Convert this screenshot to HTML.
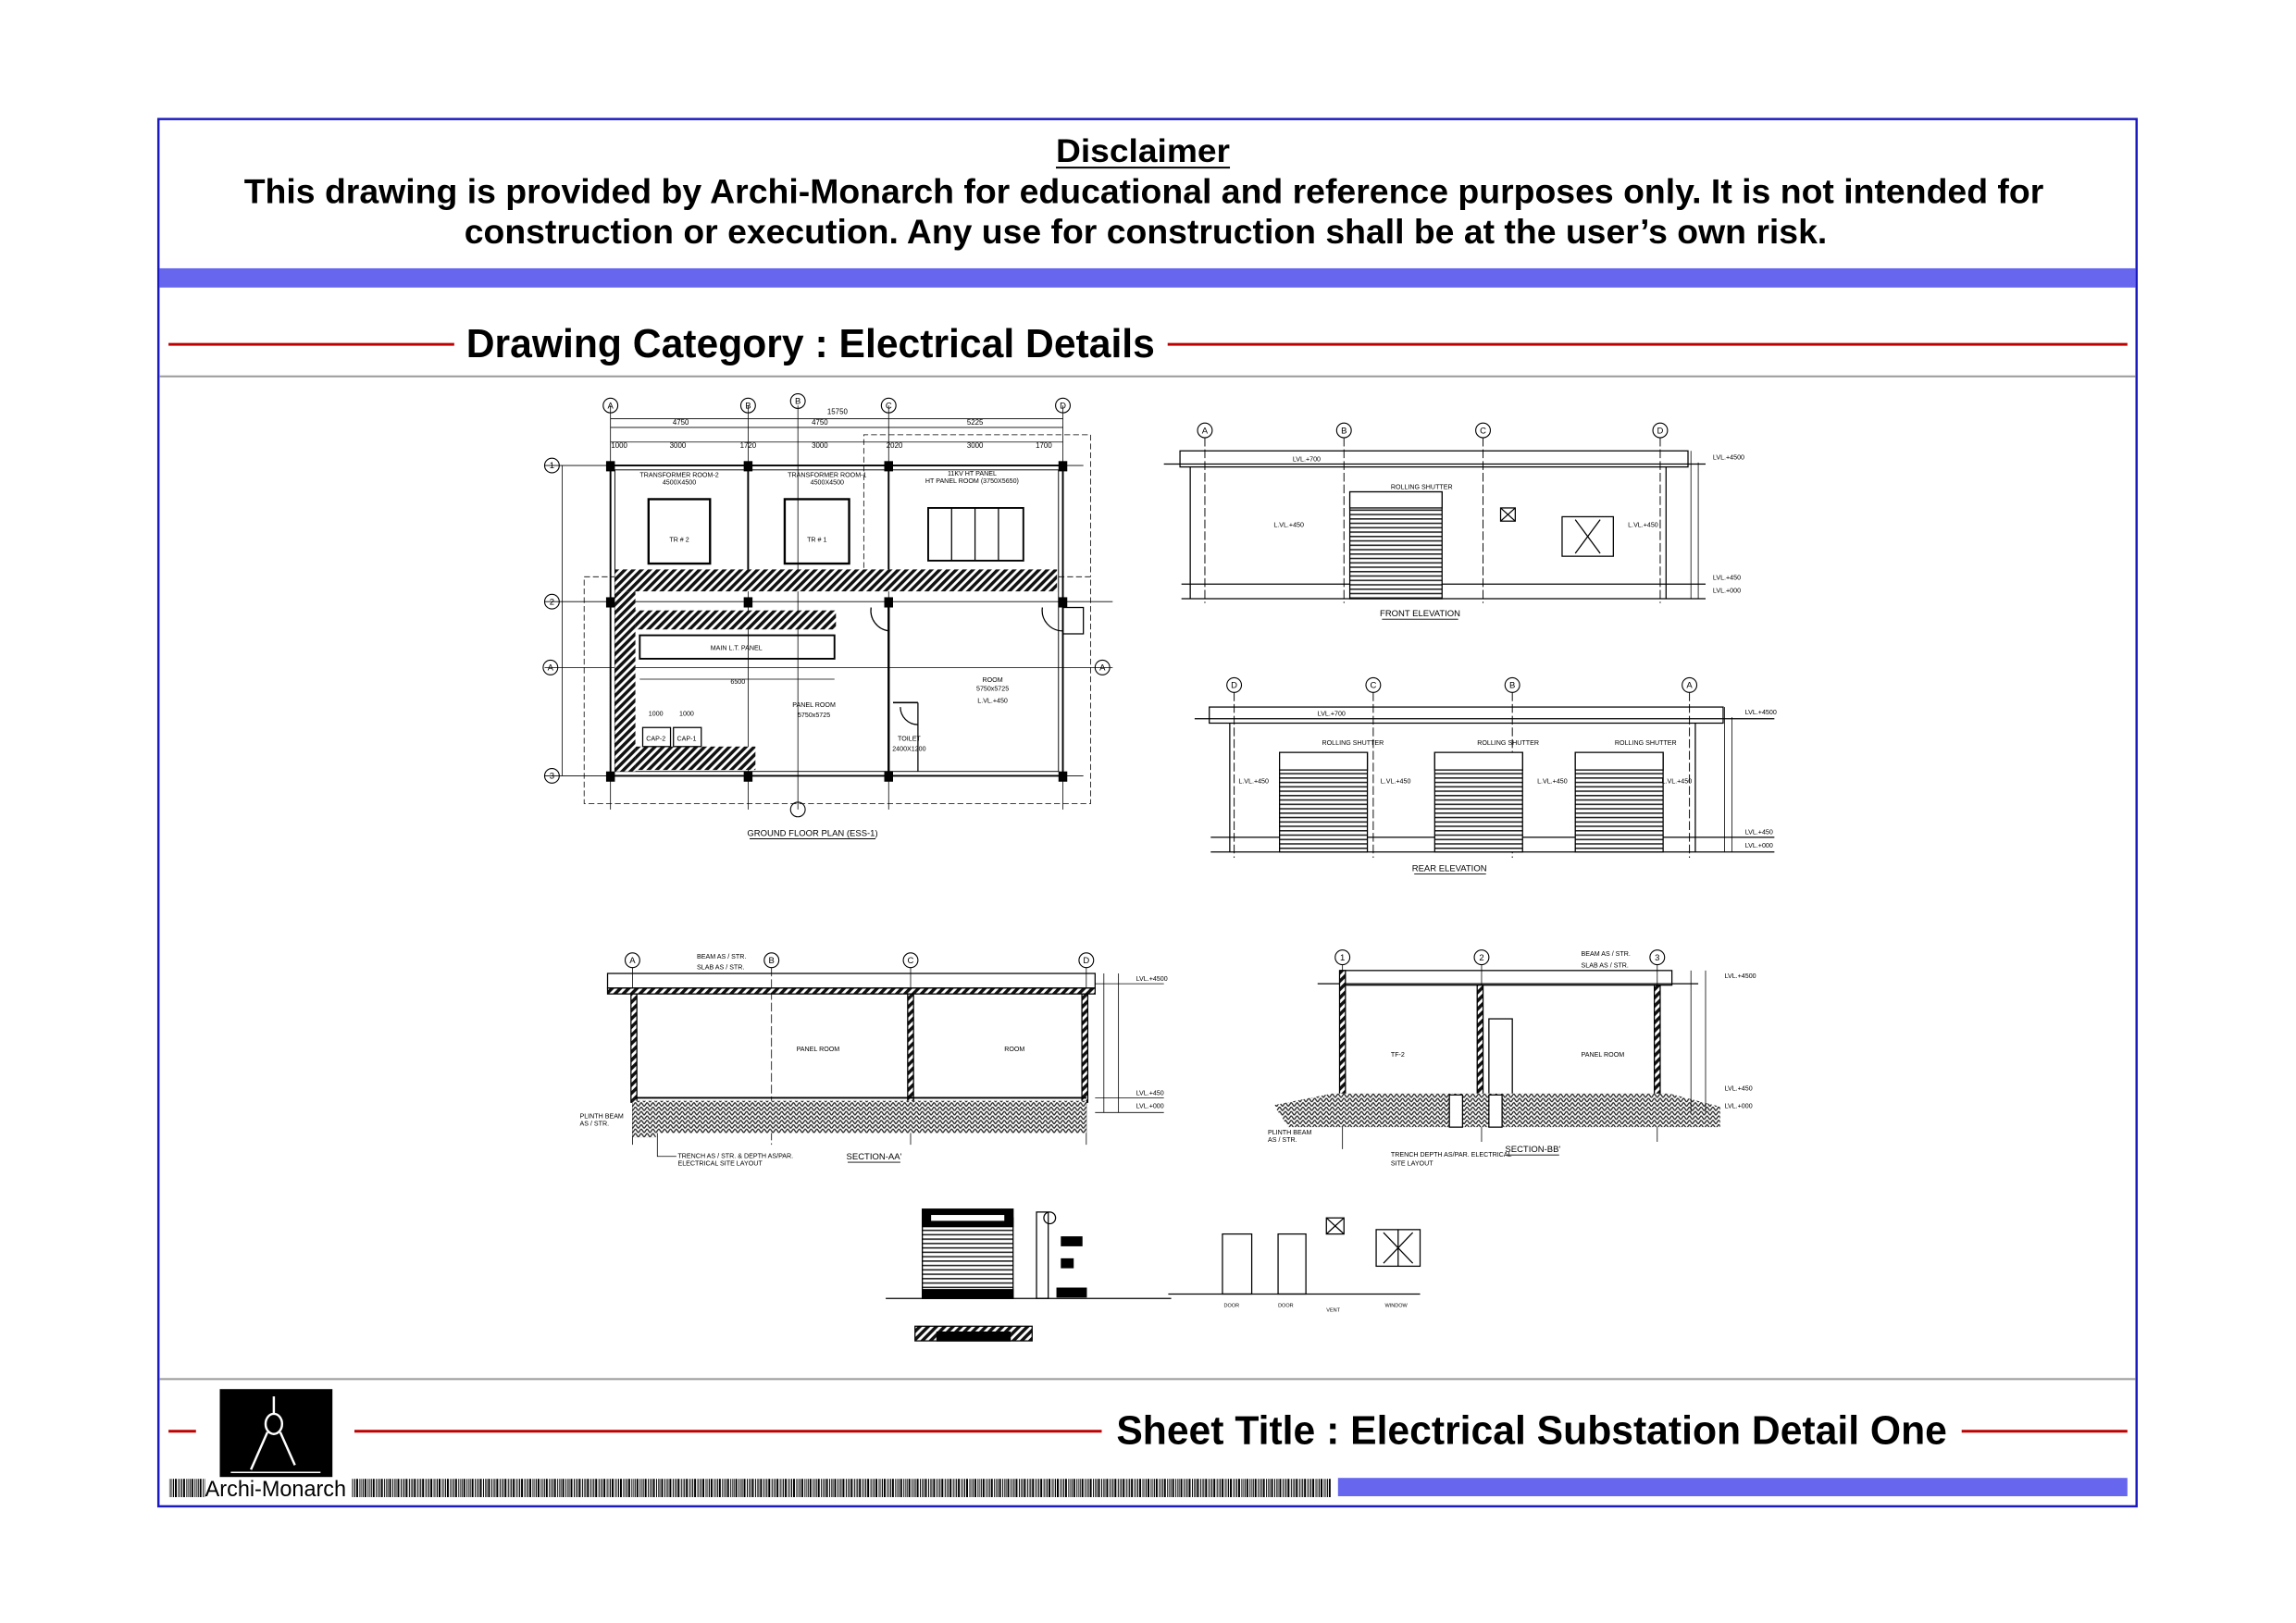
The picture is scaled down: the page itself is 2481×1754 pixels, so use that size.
<!DOCTYPE html>
<html><head><meta charset="utf-8"><style>
html,body{margin:0;padding:0;background:#fff;}
svg{display:block;}
text{font-family:"Liberation Sans",Arial,sans-serif;}
</style></head><body>
<svg width="2481" height="1754" viewBox="0 0 2481 1754" xmlns="http://www.w3.org/2000/svg">
<defs>
<pattern id="h" width="4" height="4" patternUnits="userSpaceOnUse" patternTransform="rotate(45)">
<rect width="4" height="4" fill="#fff"/><rect width="2.2" height="4" fill="#111"/></pattern>
<pattern id="g" width="4" height="3" patternUnits="userSpaceOnUse">
<rect width="4" height="3" fill="#fff"/><path d="M0 3L2 0L4 3" stroke="#222" stroke-width="0.8" fill="none"/></pattern>
<pattern id="sh" width="6" height="3" patternUnits="userSpaceOnUse">
<rect width="6" height="3" fill="#fff"/><rect y="0" width="6" height="1" fill="#222"/></pattern>
<pattern id="bc" width="9" height="10" patternUnits="userSpaceOnUse">
<rect width="9" height="10" fill="#fff"/><rect x="0" width="1" height="10" fill="#000"/><rect x="2" width="2" height="10" fill="#000"/><rect x="5.5" width="1" height="10" fill="#000"/><rect x="7.5" width="0.7" height="10" fill="#000"/></pattern>
</defs>
<g transform="scale(0.9896)">
<!-- Sheet frame -->
<rect x="173" y="130" width="2160" height="1515" fill="none" stroke="#1a1ac0" stroke-width="2.5"/>
<text x="1248" y="177" font-size="36" font-weight="bold" text-anchor="middle" textLength="190" lengthAdjust="spacingAndGlyphs">Disclaimer</text>
<line x1="1153" y1="183" x2="1343" y2="183" stroke="#000" stroke-width="2"/>
<text x="1249" y="222" font-size="37" font-weight="bold" text-anchor="middle" textLength="1965" lengthAdjust="spacingAndGlyphs">This drawing is provided by Archi-Monarch for educational and reference purposes only. It is not intended for</text>
<text x="1251" y="266" font-size="37" font-weight="bold" text-anchor="middle" textLength="1488" lengthAdjust="spacingAndGlyphs">construction or execution. Any use for construction shall be at the user’s own risk.</text>
<rect x="174" y="293" width="2158" height="21" fill="#6666ee"/>
<line x1="184" y1="376" x2="496" y2="376" stroke="#c00000" stroke-width="3"/>
<text x="509" y="390" font-size="44" font-weight="bold" textLength="752" lengthAdjust="spacingAndGlyphs">Drawing Category : Electrical Details</text>
<line x1="1275" y1="376" x2="2323" y2="376" stroke="#c00000" stroke-width="3"/>
<line x1="174" y1="411" x2="2332" y2="411" stroke="#999" stroke-width="2"/>

<line x1="174" y1="1506" x2="2332" y2="1506" stroke="#999" stroke-width="2"/>
<line x1="184" y1="1563" x2="214" y2="1563" stroke="#c00000" stroke-width="3"/>
<rect x="240" y="1517" width="123" height="96" fill="#000"/>
<g stroke="#fff" stroke-width="2.5" fill="none">
<line x1="299" y1="1525" x2="299" y2="1545"/><ellipse cx="299" cy="1555" rx="9" ry="11"/>
<line x1="292" y1="1564" x2="274" y2="1605"/><line x1="306" y1="1564" x2="322" y2="1600"/>
<line x1="252" y1="1608" x2="350" y2="1608" stroke-width="1.5"/></g>
<line x1="387" y1="1563" x2="1203" y2="1563" stroke="#c00000" stroke-width="3"/>
<text x="1219" y="1577" font-size="44" font-weight="bold" textLength="907" lengthAdjust="spacingAndGlyphs">Sheet Title : Electrical Substation Detail One</text>
<line x1="2142" y1="1563" x2="2323" y2="1563" stroke="#c00000" stroke-width="3"/>
<rect x="184" y="1615" width="40" height="20" fill="url(#bc)"/>
<text x="224" y="1634" font-size="24" textLength="154" lengthAdjust="spacingAndGlyphs">Archi-Monarch</text>
<rect x="384" y="1615" width="1069" height="20" fill="url(#bc)"/>
<rect x="1461" y="1614" width="862" height="20" fill="#6666ee"/>

<!-- Drawings -->
<g transform="scale(1.5986)" stroke="#000" fill="none" stroke-width="0.8">
<!-- GROUND FLOOR PLAN -->
<g stroke-width="0.5" stroke-dasharray="4 2"><rect x="399" y="394" width="346" height="155"/><polyline points="590,394 590,297 745,297 745,394"/></g>
<g stroke-width="0.5">
<line x1="417" y1="277" x2="417" y2="553"/><line x1="511" y1="277" x2="511" y2="553"/><line x1="607" y1="277" x2="607" y2="553"/><line x1="726" y1="277" x2="726" y2="553"/>
<line x1="545" y1="277" x2="545" y2="553"/>
<line x1="372" y1="318" x2="740" y2="318"/><line x1="372" y1="411" x2="760" y2="411"/><line x1="372" y1="530" x2="740" y2="530"/><line x1="372" y1="456" x2="760" y2="456"/>
<line x1="417" y1="286" x2="726" y2="286"/><line x1="417" y1="292" x2="726" y2="292"/><line x1="417" y1="302" x2="726" y2="302"/>
<line x1="384" y1="318" x2="384" y2="530"/>
</g>
<g font-size="5" fill="#000" stroke="none" text-anchor="middle">
<text x="572" y="283">15750</text><text x="465" y="290">4750</text><text x="560" y="290">4750</text><text x="666" y="290">5225</text>
<text x="423" y="306">1000</text><text x="463" y="306">3000</text><text x="511" y="306">1720</text><text x="560" y="306">3000</text><text x="611" y="306">2020</text><text x="666" y="306">3000</text><text x="713" y="306">1700</text>
</g>
<g stroke-width="0.7">
<circle cx="417" cy="277" r="5"/><circle cx="511" cy="277" r="5"/><circle cx="545" cy="274" r="5"/><circle cx="607" cy="277" r="5"/><circle cx="726" cy="277" r="5"/>
<circle cx="377" cy="318" r="5"/><circle cx="377" cy="411" r="5"/><circle cx="377" cy="530" r="5"/><circle cx="376" cy="456" r="5"/><circle cx="753" cy="456" r="5"/><circle cx="545" cy="553" r="5"/>
</g>
<g font-size="6" fill="#000" stroke="none" text-anchor="middle">
<text x="417" y="279">A</text><text x="511" y="279">B</text><text x="545" y="276">B</text><text x="607" y="279">C</text><text x="726" y="279">D</text>
<text x="377" y="320">1</text><text x="377" y="413">2</text><text x="377" y="532">3</text><text x="376" y="458">A</text><text x="753" y="458">A</text>
</g>
<rect x="417" y="318" width="309" height="212" stroke-width="1.2"/>
<rect x="420" y="321" width="303" height="206" stroke-width="0.6"/>
<g fill="#000" stroke="none">
<rect x="414" y="315" width="6" height="7"/><rect x="508" y="315" width="6" height="7"/><rect x="604" y="315" width="6" height="7"/><rect x="723" y="315" width="6" height="7"/>
<rect x="414" y="408" width="6" height="7"/><rect x="508" y="408" width="6" height="7"/><rect x="604" y="408" width="6" height="7"/><rect x="723" y="408" width="6" height="7"/>
<rect x="414" y="527" width="6" height="7"/><rect x="508" y="527" width="6" height="7"/><rect x="604" y="527" width="6" height="7"/><rect x="723" y="527" width="6" height="7"/>
</g>
<line x1="511" y1="318" x2="511" y2="389" stroke-width="1.2"/><line x1="607" y1="318" x2="607" y2="389" stroke-width="1.2"/>
<line x1="607" y1="415" x2="607" y2="530" stroke-width="1.5"/>
<polyline points="610,480 627,480" stroke-width="1"/><line x1="627" y1="480" x2="627" y2="527"/>
<rect x="443" y="341" width="42" height="44" stroke-width="1.5"/>
<rect x="536" y="341" width="44" height="44" stroke-width="1.5"/>
<rect x="634" y="347" width="65" height="36" stroke-width="1.2"/>
<line x1="650" y1="347" x2="650" y2="383"/><line x1="666" y1="347" x2="666" y2="383"/><line x1="682" y1="347" x2="682" y2="383"/>
<rect x="420" y="389" width="302" height="15" fill="url(#h)" stroke="none"/>
<rect x="420" y="404" width="14" height="123" fill="url(#h)" stroke="none"/>
<rect x="434" y="417" width="137" height="13" fill="url(#h)" stroke="none"/>
<rect x="434" y="510" width="82" height="16" fill="url(#h)" stroke="none"/>
<rect x="437" y="434" width="133" height="16" stroke-width="1.2"/>
<line x1="437" y1="464" x2="570" y2="464" stroke-width="0.5"/>
<rect x="439" y="497" width="19" height="13"/><rect x="460" y="497" width="19" height="13"/>
<path d="M595 415 A14 14 0 0 0 607 431"/><path d="M712 415 A14 14 0 0 0 726 431"/><rect x="726" y="415" width="14" height="18"/>
<path d="M615 483 A12 12 0 0 0 627 495"/>
<g font-size="4.5" fill="#000" stroke="none" text-anchor="middle">
<text x="464" y="326">TRANSFORMER ROOM-2</text><text x="464" y="331">4500X4500</text>
<text x="565" y="326">TRANSFORMER ROOM-1</text><text x="565" y="331">4500X4500</text>
<text x="664" y="325">11KV HT PANEL</text><text x="664" y="330">HT PANEL ROOM (3750X5650)</text>
<text x="464" y="370">TR # 2</text><text x="558" y="370">TR # 1</text>
<text x="503" y="444">MAIN L.T. PANEL</text><text x="504" y="467">6500</text>
<text x="556" y="483">PANEL ROOM</text><text x="556" y="490">5750x5725</text>
<text x="678" y="466">ROOM</text><text x="678" y="472">5750x5725</text><text x="678" y="480">L.VL.+450</text>
<text x="621" y="506">TOILET</text><text x="621" y="513">2400X1200</text>
<text x="448" y="506">CAP-2</text><text x="469" y="506">CAP-1</text>
<text x="448" y="489">1000</text><text x="469" y="489">1000</text>
</g>
<text x="555" y="571" font-size="6" fill="#000" stroke="none" text-anchor="middle">GROUND FLOOR PLAN (ESS-1)</text>
<line x1="512" y1="573" x2="598" y2="573" stroke-width="0.6"/>

<!-- FRONT ELEVATION -->
<g stroke-dasharray="6 2" stroke-width="0.6"><line x1="823" y1="299" x2="823" y2="412"/><line x1="918" y1="299" x2="918" y2="412"/><line x1="1013" y1="299" x2="1013" y2="412"/><line x1="1134" y1="299" x2="1134" y2="412"/></g>
<g stroke-width="0.7"><circle cx="823" cy="294" r="5"/><circle cx="918" cy="294" r="5"/><circle cx="1013" cy="294" r="5"/><circle cx="1134" cy="294" r="5"/></g>
<g font-size="6" fill="#000" stroke="none" text-anchor="middle"><text x="823" y="296">A</text><text x="918" y="296">B</text><text x="1013" y="296">C</text><text x="1134" y="296">D</text></g>
<rect x="806" y="308" width="347" height="11"/>
<line x1="795" y1="317" x2="1165" y2="317"/>
<line x1="813" y1="319" x2="813" y2="409"/><line x1="1138" y1="319" x2="1138" y2="409"/>
<line x1="807" y1="399" x2="1165" y2="399"/><line x1="807" y1="409" x2="1165" y2="409"/>
<rect x="922" y="336" width="63" height="73" fill="url(#sh)"/><rect x="922" y="336" width="63" height="11" fill="#fff"/>
<rect x="1025" y="347" width="10" height="9"/><path d="M1025 347L1035 356M1035 347L1025 356"/>
<rect x="1067" y="353" width="35" height="27"/><path d="M1076 355L1093 378M1093 355L1076 378"/>
<line x1="1155" y1="308" x2="1155" y2="409" stroke-width="0.5"/><line x1="1160" y1="316" x2="1160" y2="409" stroke-width="0.5"/>
<g font-size="4.5" fill="#000" stroke="none"><text x="883" y="315">LVL.+700</text><text x="870" y="360">L.VL.+450</text><text x="1112" y="360">L.VL.+450</text><text x="950" y="334">ROLLING SHUTTER</text><text x="1170" y="314">LVL.+4500</text><text x="1170" y="396">LVL.+450</text><text x="1170" y="405">LVL.+000</text></g>
<text x="970" y="421" font-size="6" fill="#000" stroke="none" text-anchor="middle">FRONT ELEVATION</text>
<line x1="944" y1="423" x2="996" y2="423" stroke-width="0.6"/>

<!-- REAR ELEVATION -->
<g stroke-dasharray="6 2" stroke-width="0.6"><line x1="843" y1="473" x2="843" y2="586"/><line x1="938" y1="473" x2="938" y2="586"/><line x1="1033" y1="473" x2="1033" y2="586"/><line x1="1154" y1="473" x2="1154" y2="586"/></g>
<g stroke-width="0.7"><circle cx="843" cy="468" r="5"/><circle cx="938" cy="468" r="5"/><circle cx="1033" cy="468" r="5"/><circle cx="1154" cy="468" r="5"/></g>
<g font-size="6" fill="#000" stroke="none" text-anchor="middle"><text x="843" y="470">D</text><text x="938" y="470">C</text><text x="1033" y="470">B</text><text x="1154" y="470">A</text></g>
<rect x="826" y="483" width="351" height="11"/>
<line x1="816" y1="491" x2="1212" y2="491"/>
<line x1="840" y1="494" x2="840" y2="582"/><line x1="1158" y1="494" x2="1158" y2="582"/>
<line x1="827" y1="572" x2="1212" y2="572"/><line x1="827" y1="582" x2="1212" y2="582"/>
<rect x="874" y="514" width="60" height="68" fill="url(#sh)"/><rect x="874" y="514" width="60" height="12" fill="#fff"/>
<rect x="980" y="514" width="60" height="68" fill="url(#sh)"/><rect x="980" y="514" width="60" height="12" fill="#fff"/>
<rect x="1076" y="514" width="60" height="68" fill="url(#sh)"/><rect x="1076" y="514" width="60" height="12" fill="#fff"/>
<line x1="1178" y1="483" x2="1178" y2="582" stroke-width="0.5"/><line x1="1183" y1="490" x2="1183" y2="582" stroke-width="0.5"/>
<g font-size="4.5" fill="#000" stroke="none"><text x="900" y="489">LVL.+700</text><text x="846" y="535">L.VL.+450</text><text x="943" y="535">L.VL.+450</text><text x="1050" y="535">L.VL.+450</text><text x="1135" y="535">L.VL.+450</text>
<text x="903" y="509">ROLLING SHUTTER</text><text x="1009" y="509">ROLLING SHUTTER</text><text x="1103" y="509">ROLLING SHUTTER</text><text x="1192" y="488">LVL.+4500</text><text x="1192" y="570">LVL.+450</text><text x="1192" y="579">LVL.+000</text></g>
<text x="990" y="595" font-size="6" fill="#000" stroke="none" text-anchor="middle">REAR ELEVATION</text>
<line x1="966" y1="597" x2="1015" y2="597" stroke-width="0.6"/>

<!-- SECTION AA -->
<g stroke-width="0.5"><line x1="432" y1="661" x2="432" y2="782"/><line x1="527" y1="661" x2="527" y2="782" stroke-dasharray="6 2"/><line x1="622" y1="661" x2="622" y2="782"/><line x1="742" y1="661" x2="742" y2="782"/></g>
<g stroke-width="0.7"><circle cx="432" cy="656" r="5"/><circle cx="527" cy="656" r="5"/><circle cx="622" cy="656" r="5"/><circle cx="742" cy="656" r="5"/></g>
<g font-size="6" fill="#000" stroke="none" text-anchor="middle"><text x="432" y="658">A</text><text x="527" y="658">B</text><text x="622" y="658">C</text><text x="742" y="658">D</text></g>
<rect x="415" y="665" width="333" height="10"/>
<rect x="415" y="675" width="333" height="4" fill="url(#h)"/>
<rect x="431" y="679" width="4" height="74" fill="url(#h)"/><rect x="620" y="679" width="4" height="74" fill="url(#h)"/><rect x="739" y="679" width="4" height="74" fill="url(#h)"/>
<line x1="434" y1="750" x2="742" y2="750" stroke-width="1.2"/>
<rect x="448" y="752" width="294" height="22" fill="url(#g)" stroke="none"/>
<rect x="432" y="752" width="16" height="25" fill="url(#g)" stroke="none"/>
<line x1="754" y1="665" x2="754" y2="760" stroke-width="0.5"/><line x1="764" y1="665" x2="764" y2="760" stroke-width="0.5"/>
<line x1="748" y1="672" x2="795" y2="672" stroke-width="0.5"/><line x1="748" y1="750" x2="795" y2="750" stroke-width="0.5"/><line x1="748" y1="760" x2="795" y2="760" stroke-width="0.5"/>
<g font-size="4.5" fill="#000" stroke="none"><text x="476" y="655">BEAM AS / STR.</text><text x="476" y="662">SLAB AS / STR.</text><text x="544" y="718">PANEL ROOM</text><text x="686" y="718">ROOM</text>
<text x="776" y="670">LVL.+4500</text><text x="776" y="748">LVL.+450</text><text x="776" y="757">LVL.+000</text><text x="396" y="764">PLINTH BEAM</text><text x="396" y="769">AS / STR.</text>
<text x="463" y="791">TRENCH AS / STR. &amp; DEPTH AS/PAR.</text><text x="463" y="796">ELECTRICAL SITE LAYOUT</text></g>
<polyline points="449,774 449,790 462,790" stroke-width="0.5"/>
<text x="597" y="792" font-size="6" fill="#000" stroke="none" text-anchor="middle">SECTION-AA'</text>
<line x1="579" y1="794" x2="615" y2="794" stroke-width="0.6"/>

<!-- SECTION BB -->
<g stroke-width="0.5"><line x1="917" y1="659" x2="917" y2="785"/><line x1="1012" y1="659" x2="1012" y2="780"/><line x1="1132" y1="659" x2="1132" y2="780"/></g>
<g stroke-width="0.7"><circle cx="917" cy="654" r="5"/><circle cx="1012" cy="654" r="5"/><circle cx="1132" cy="654" r="5"/></g>
<g font-size="6" fill="#000" stroke="none" text-anchor="middle"><text x="917" y="656">1</text><text x="1012" y="656">2</text><text x="1132" y="656">3</text></g>
<rect x="916" y="663" width="226" height="10"/>
<line x1="900" y1="672" x2="1160" y2="672"/>
<rect x="915" y="663" width="4" height="88" fill="url(#h)"/><rect x="1009" y="673" width="4" height="78" fill="url(#h)"/><rect x="1130" y="673" width="4" height="78" fill="url(#h)"/>
<rect x="1017" y="696" width="16" height="52"/>
<line x1="915" y1="748" x2="1134" y2="748" stroke-width="1.2"/>
<polygon points="870,755 910,747 1140,747 1175,756 1175,770 880,770" fill="url(#g)" stroke="none"/>
<rect x="990" y="748" width="9" height="22" fill="#fff"/><rect x="1017" y="748" width="9" height="22" fill="#fff"/>
<line x1="1155" y1="663" x2="1155" y2="760" stroke-width="0.5"/><line x1="1165" y1="663" x2="1165" y2="760" stroke-width="0.5"/>
<g font-size="4.5" fill="#000" stroke="none"><text x="1080" y="653">BEAM AS / STR.</text><text x="1080" y="661">SLAB AS / STR.</text><text x="950" y="722">TF-2</text><text x="1080" y="722">PANEL ROOM</text>
<text x="1178" y="668">LVL.+4500</text><text x="1178" y="745">LVL.+450</text><text x="1178" y="757">LVL.+000</text>
<text x="866" y="775">PLINTH BEAM</text><text x="866" y="780">AS / STR.</text><text x="950" y="790">TRENCH DEPTH AS/PAR. ELECTRICAL</text><text x="950" y="796">SITE LAYOUT</text></g>
<text x="1047" y="787" font-size="6" fill="#000" stroke="none" text-anchor="middle">SECTION-BB'</text>
<line x1="1029" y1="789" x2="1065" y2="789" stroke-width="0.6"/>

<!-- DETAILS -->
<line x1="605" y1="887" x2="800" y2="887"/>
<rect x="630" y="832" width="62" height="55" fill="url(#sh)"/>
<rect x="630" y="826" width="62" height="12" fill="#000"/><rect x="636" y="830" width="50" height="4" fill="#fff" stroke="none"/>
<rect x="630" y="881" width="62" height="6" fill="#000"/>
<rect x="708" y="828" width="8" height="59"/><circle cx="717" cy="832" r="4"/>
<rect x="725" y="845" width="14" height="6" fill="#000"/><rect x="725" y="860" width="8" height="6" fill="#000"/><rect x="722" y="880" width="20" height="6" fill="#000"/>
<rect x="625" y="906" width="80" height="10" fill="url(#h)"/><rect x="640" y="910" width="50" height="6" fill="#000"/>
<line x1="798" y1="884" x2="970" y2="884"/>
<rect x="835" y="843" width="20" height="41"/><rect x="873" y="843" width="19" height="41"/>
<rect x="906" y="832" width="12" height="11"/><path d="M906 832L918 843M918 832L906 843"/>
<rect x="940" y="840" width="30" height="25"/><line x1="955" y1="840" x2="955" y2="865"/><path d="M945 842L965 863M965 842L945 863"/>
<g font-size="3.5" fill="#000" stroke="none"><text x="836" y="893">DOOR</text><text x="873" y="893">DOOR</text><text x="906" y="896">VENT</text><text x="946" y="893">WINDOW</text></g>
</g>
</g>
</svg>
</body></html>
